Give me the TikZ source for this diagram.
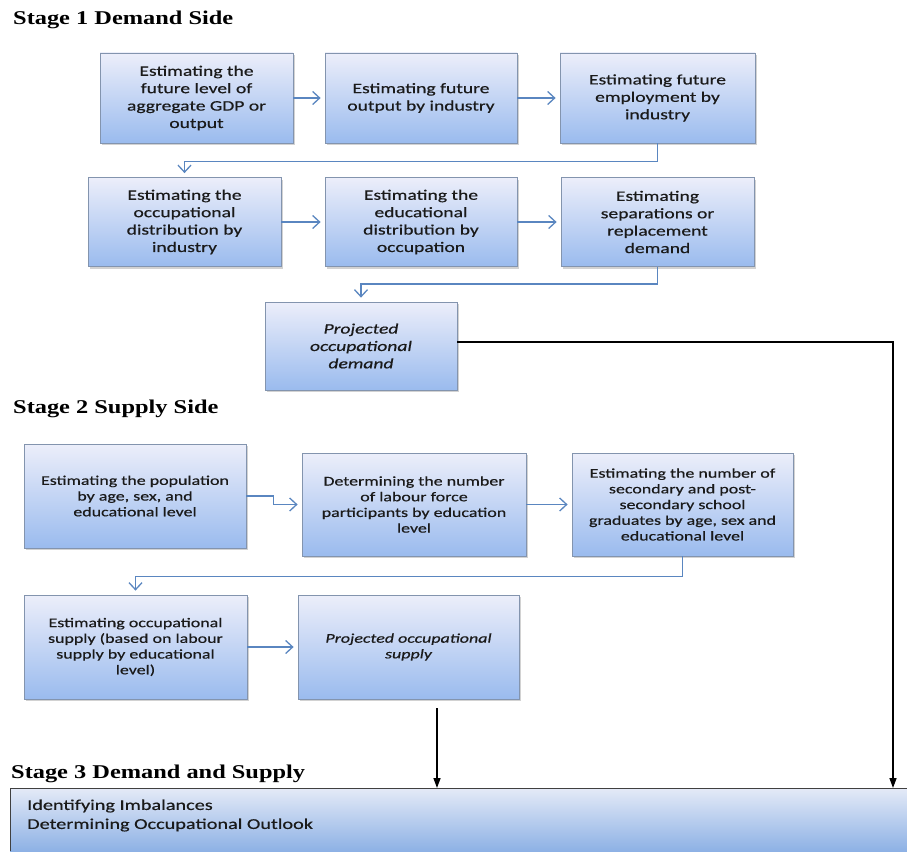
\documentclass[tikz,border=0pt]{standalone}
\usepackage{fontspec}
\setmainfont{Carlito}
\newfontfamily\boxfont{Carlito}[FakeStretch=1.35,FakeBold=0.5]
\newfontfamily\ttlfont{Liberation Serif}[FakeStretch=1.25]
\usetikzlibrary{arrows.meta,shadows,calc}
\definecolor{bordc}{HTML}{8394AE}
\definecolor{boxtop}{HTML}{ECEEFA}
\definecolor{boxbot}{HTML}{9ABBEE}
\definecolor{textc}{HTML}{1A1A1A}
\definecolor{linec}{HTML}{5A86C0}
\definecolor{s3top}{HTML}{E4EAF7}
\definecolor{s3bot}{HTML}{8DB1E5}
\tikzset{
  box/.style={draw=bordc, line width=0.8pt, top color=boxtop, bottom color=boxbot,
    drop shadow={shadow xshift=1.5pt, shadow yshift=-2pt, opacity=0.35, fill=gray},
    align=center, text=textc, inner sep=2pt},
  sa/.style={box, font={\boxfont\fontsize{14.5}{17.4}\selectfont}},
  sb/.style={box, font={\boxfont\fontsize{13.3}{15.7}\selectfont}},
  bl/.style={draw=linec, line width=1.3pt, -{Straight Barb[length=7pt,width=13pt]}, shorten >=4pt},
  blk/.style={draw=black, line width=1.5pt, -{Triangle[length=10pt,width=7pt]}},
  ttl/.style={anchor=base west, inner sep=0pt, font={\ttlfont\bfseries\fontsize{19.5}{22}\selectfont}}
}
\begin{document}
\begin{tikzpicture}[x=1pt,y=-1pt]
\fill[white] (0,0) rectangle (907,851);
\useasboundingbox (0,0) rectangle (907,851);

% titles
\node[ttl] (t1) at (13,25) {Stage 1 Demand Side};
\node[ttl] (t2) at (13,413) {Stage 2 Supply Side};
\node[ttl] (t3) at (11,778) {Stage 3 Demand and Supply};

% Stage 1 boxes
\node[sa, minimum width=193pt, minimum height=90pt] (b1) at (196.5,98) {Estimating the\\future level of\\aggregate GDP or\\output};
\node[sa, minimum width=192pt, minimum height=90pt] (b2) at (421,98) {Estimating future\\output by industry};
\node[sa, minimum width=195pt, minimum height=90pt] (b3) at (657.5,98) {Estimating future\\employment by\\industry};
\node[sa, minimum width=193pt, minimum height=89pt] (b4) at (184.5,222) {Estimating the\\occupational\\distribution by\\industry};
\node[sa, minimum width=192pt, minimum height=89pt] (b5) at (421,222) {Estimating the\\educational\\distribution by\\occupation};
\node[sa, minimum width=193pt, minimum height=89pt] (b6) at (657.5,222) {Estimating\\separations or\\replacement\\demand};
\node[sa, minimum width=192pt, minimum height=88pt] (b7) at (361,346) {\itshape Projected\\\itshape occupational\\\itshape demand};

% Stage 2 boxes
\node[sb, minimum width=222pt, minimum height=104pt] (b8) at (135,496) {Estimating the population\\by age, sex, and\\educational level};
\node[sb, minimum width=224pt, minimum height=103pt] (b9) at (414,504.5) {Determining the number\\of labour force\\participants by education\\level};
\node[sb, minimum width=221pt, minimum height=103pt] (b10) at (682.5,504.5) {Estimating the number of\\secondary and post-\\secondary school\\graduates by age, sex and\\educational level};
\node[sb, minimum width=223pt, minimum height=104pt] (b11) at (135.5,647) {Estimating occupational\\supply (based on labour\\supply by educational\\level)};
\node[sb, minimum width=221pt, minimum height=104pt] (b12) at (408.5,647) {\itshape Projected occupational\\\itshape supply};

% Stage 3 box
\node[anchor=north west, minimum width=897pt, minimum height=63pt, inner sep=0pt,
      top color=s3top, bottom color=s3bot] (s3) at (10,788) {};
\draw[black!75, line width=0.9pt] (s3.south west) -- (s3.north west) -- (s3.north east);
\node[anchor=west, align=left, text=textc, inner sep=0pt,
      font={\boxfont\fontsize{15}{19}\selectfont}] (s3t) at (27,815.5) {Identifying Imbalances\\Determining Occupational Outlook};

% blue connectors
\draw[bl] (b1.east) -- (b2.west);
\draw[bl] (b2.east) -- (b3.west);
\draw[bl] (b3.south) -- ++(0,18) -| (b4.north);
\draw[bl] (b4.east) -- (b5.west);
\draw[bl] (b5.east) -- (b6.west);
\draw[bl] (b6.south) -- ++(0,17) -| (b7.north);
\draw[bl] (b8.east) -- ++(27,0) |- (b9.west);
\draw[bl] (b9.east) -- (b10.west);
\draw[bl] (b10.south) -- ++(0,20) -| (b11.north);
\draw[bl] (b11.east) -- (b12.west);

% black connectors
\coordinate (c1) at (893,342);
\coordinate (c2) at (437,708);
\draw[blk] ([yshift=4pt]b7.east) -- (c1) -- (c1 |- s3.north);
\draw[blk] (c2) -- (c2 |- s3.north);
\end{tikzpicture}
\end{document}
